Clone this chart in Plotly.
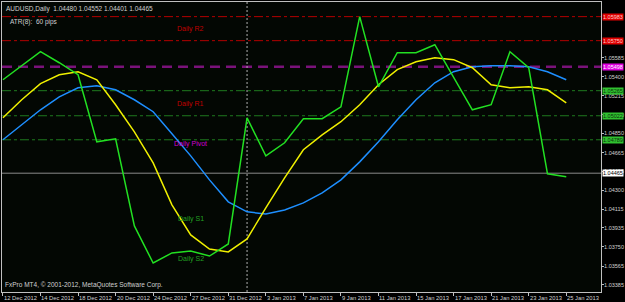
import plotly.graph_objects as go

# ---------------- data ----------------
bars = list(range(31))  # daily bars 12 Dec 2012 .. 25 Jan 2013

green_line = [1.05371, 1.05507, 1.05643, 1.05536, 1.05420, 1.04769, 1.04798, 1.03954,
              1.03594, 1.03692, 1.03711, 1.03662, 1.03779, 1.05002, 1.04633, 1.04760,
              1.04993, 1.04993, 1.05109, 1.05983, 1.05303, 1.05634, 1.05634, 1.05711,
              1.05401, 1.05080, 1.05129, 1.05643, 1.05488, 1.04459, 1.04430]

yellow_line = [1.05002, 1.05177, 1.05333, 1.05420, 1.05449, 1.05371, 1.05129, 1.04866,
               1.04565, 1.04158, 1.03866, 1.03730, 1.03701, 1.03828, 1.04129, 1.04420,
               1.04692, 1.04837, 1.04964, 1.05129, 1.05323, 1.05469, 1.05546, 1.05585,
               1.05566, 1.05488, 1.05323, 1.05294, 1.05303, 1.05274, 1.05148]

blue_line = [1.04789, 1.04934, 1.05080, 1.05206, 1.05294, 1.05313, 1.05274, 1.05177,
             1.05061, 1.04847, 1.04633, 1.04400, 1.04187, 1.04090, 1.04070, 1.04109,
             1.04177, 1.04274, 1.04400, 1.04575, 1.04769, 1.04983, 1.05177, 1.05342,
             1.05449, 1.05498, 1.05507, 1.05507, 1.05498, 1.05449, 1.05371]

x_tick_bars = [0, 2, 4, 6, 8, 10, 12, 14, 16, 18, 20, 22, 24, 26, 28, 30]
x_tick_labels = ["12 Dec 2012", "14 Dec 2012", "18 Dec 2012", "20 Dec 2012", "24 Dec 2012",
                 "27 Dec 2012", "31 Dec 2012", "3 Jan 2013", "7 Jan 2013", "9 Jan 2013",
                 "11 Jan 2013", "15 Jan 2013", "17 Jan 2013", "21 Jan 2013", "23 Jan 2013",
                 "25 Jan 2013"]

y_tick_vals = [1.05585, 1.05400, 1.05215, 1.05030, 1.04850, 1.04665, 1.04485,
               1.04300, 1.04115, 1.03935, 1.03750, 1.03565, 1.03385]
y_tick_labels = ["1.05585", "1.05400", "1.05215", "1.05030", "1.04850", "1.04665", "1.04485",
                 "1.04300", "1.04115", "1.03935", "1.03750", "1.03565", "1.03385"]

level_values = [1.05983, 1.05750, 1.05498, 1.05265, 1.05022, 1.04789]
level_colors = ["#b40000", "#b40000", "#7a127a", "#1f7a1f", "#1f7a1f", "#1f7a1f"]
level_box_colors = ["#e00000", "#e00000", "#e000e0", "#30c030", "#30c030", "#30c030"]
level_box_text = ["#ffc8c8", "#ffc8c8", "#ffffff", "#0a300a", "#0a300a", "#0a300a"]
level_dash = ["9px,3px,3px,3px", "9px,3px,3px,3px", "10px,6px",
              "9px,3px,3px,3px", "9px,3px,3px,3px", "9px,3px,3px,3px"]
level_width = [1, 1, 2.5, 1, 1, 1]

current_price = 1.04465
separator_bar = 13

pivot_names = ["Daily R2", "Daily R1", "Daily Pivot", "Daily S1", "Daily S2"]
pivot_name_y = [1.05866, 1.05137, 1.04750, 1.04021, 1.03633]
pivot_name_colors = ["#c00000", "#c00000", "#d000d0", "#22a022", "#22a022"]
pivot_name_bar = 10

header = "AUDUSD,Daily  1.04480 1.04552 1.04401 1.04465"
indicator_text = "ATR(8):  60 pips"
footer = "FxPro MT4, © 2001-2012, MetaQuotes Software Corp."

# ---------------- figure ----------------
FONT = "Liberation Sans"
AXIS_GRAY = "#c0c0c0"
TEXT_GRAY = "#d0d0d0"

fig = go.Figure()

for v, c, d, w in zip(level_values, level_colors, level_dash, level_width):
    fig.add_hline(y=v, line=dict(color=c, width=w, dash=d), layer="below")

fig.add_hline(y=current_price, line=dict(color="#8a8a8a", width=1), layer="below")
fig.add_vline(x=separator_bar, line=dict(color="#b0b0b0", width=1, dash="2px,2px"), layer="below")

fig.add_trace(go.Scatter(x=bars, y=blue_line, mode="lines",
                         line=dict(color="#1e8fff", width=1.5), hoverinfo="skip"))
fig.add_trace(go.Scatter(x=bars, y=yellow_line, mode="lines",
                         line=dict(color="#f0f000", width=1.5), hoverinfo="skip"))
fig.add_trace(go.Scatter(x=bars, y=green_line, mode="lines",
                         line=dict(color="#22e022", width=1.5), hoverinfo="skip"))

annotations = []
for name, yv, col in zip(pivot_names, pivot_name_y, pivot_name_colors):
    annotations.append(dict(x=pivot_name_bar, y=yv, xref="x", yref="y", text=name,
                            showarrow=False, font=dict(family=FONT, size=7, color=col),
                            xanchor="center", yanchor="middle"))

for v, bc, tc in zip(level_values, level_box_colors, level_box_text):
    annotations.append(dict(x=1, y=v, xref="paper", yref="y", text=f"{v:.5f}",
                            showarrow=False, font=dict(family=FONT, size=5.5, color=tc),
                            bgcolor=bc, borderpad=0, xanchor="left", yanchor="middle",
                            xshift=1))
annotations.append(dict(x=1, y=current_price, xref="paper", yref="y",
                        text=f"{current_price:.5f}", showarrow=False,
                        font=dict(family=FONT, size=5.5, color="#000000"),
                        bgcolor="#ffffff", borderpad=0, xanchor="left", yanchor="middle",
                        xshift=1))

for b, lab in zip(x_tick_bars, x_tick_labels):
    annotations.append(dict(x=b, y=0, xref="x", yref="paper", text=lab, showarrow=False,
                            font=dict(family=FONT, size=5.8, color=TEXT_GRAY),
                            xanchor="left", yanchor="top", xshift=-1, yshift=-1))

annotations.append(dict(x=0, y=1, xref="paper", yref="paper", text=header, showarrow=False,
                        font=dict(family=FONT, size=6.5, color=TEXT_GRAY),
                        xanchor="left", yanchor="top", xshift=2, yshift=-1))
annotations.append(dict(x=0, y=1, xref="paper", yref="paper", text=indicator_text,
                        showarrow=False, font=dict(family=FONT, size=6.5, color=TEXT_GRAY),
                        xanchor="left", yanchor="top", xshift=6, yshift=-14))
annotations.append(dict(x=0, y=0, xref="paper", yref="paper", text=footer, showarrow=False,
                        font=dict(family=FONT, size=6.5, color=TEXT_GRAY),
                        xanchor="left", yanchor="bottom", xshift=1, yshift=1))

fig.update_layout(
    width=625, height=302,
    margin=dict(l=2, r=24, t=2, b=10, pad=0),
    paper_bgcolor="#000000",
    plot_bgcolor="#030703",
    showlegend=False,
    template="none",
    annotations=annotations,
    xaxis=dict(range=[-0.05, 31.85], showgrid=False, zeroline=False,
               tickvals=x_tick_bars, showticklabels=False, ticks="outside", ticklen=3,
               tickcolor=AXIS_GRAY, showline=True, linecolor=AXIS_GRAY, linewidth=1,
               mirror=True, automargin=False, fixedrange=True),
    yaxis=dict(range=[1.03313, 1.06125], side="right", showgrid=False, zeroline=False,
               tickvals=y_tick_vals, ticktext=y_tick_labels, ticks="outside", ticklen=2,
               ticklabelstandoff=-1,
               tickcolor=AXIS_GRAY, tickfont=dict(family=FONT, size=5.5, color=TEXT_GRAY),
               showline=True, linecolor=AXIS_GRAY, linewidth=1, mirror=True,
               automargin=False, fixedrange=True),
)

fig.write_html("out.html")
